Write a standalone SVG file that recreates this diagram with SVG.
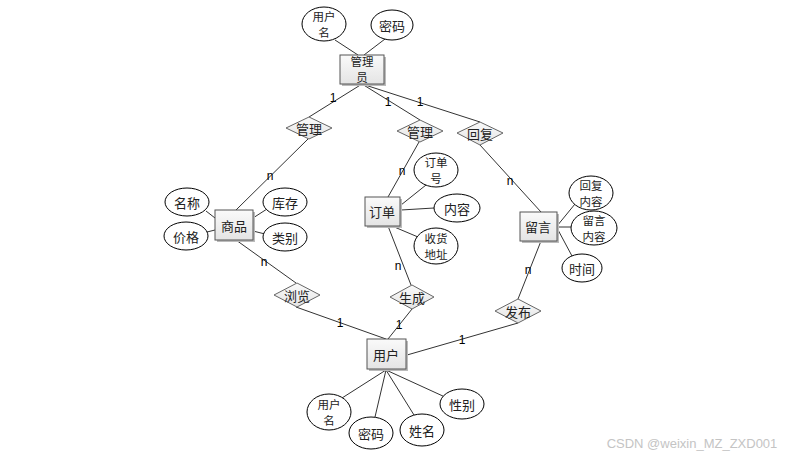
<svg xmlns="http://www.w3.org/2000/svg" width="788" height="457" viewBox="0 0 788 457">
<style>
text{font-family:"Noto Sans CJK SC","Liberation Sans",sans-serif;font-size:13px;fill:#222;text-anchor:middle;dominant-baseline:central}
text.two{font-size:11.5px}
.lbl{font-family:"Liberation Sans",sans-serif;font-size:12px;fill:#000}
.ent{fill:url(#g);stroke:#555;stroke-width:1}
.att{fill:#fff;stroke:#000;stroke-width:1}
.rel{fill:url(#g);stroke:#666;stroke-width:1}
.c line{stroke:#333;stroke-width:1}
.sh{fill:#bbb}
.wm{font-family:"Liberation Sans",sans-serif;font-size:13px;fill:#c4c4c4}
</style>
<defs>
<linearGradient id="g" x1="0" y1="0" x2="0" y2="1"><stop offset="0" stop-color="#fafafa"/><stop offset="1" stop-color="#e4e4e4"/></linearGradient>
</defs>
<rect width="788" height="457" fill="#fff"/>
<g class="c">
<line x1="335" y1="40" x2="358" y2="55"/>
<line x1="385" y1="39" x2="364" y2="55"/>
<line x1="362" y1="84" x2="309" y2="117"/>
<line x1="362" y1="84" x2="420" y2="120"/>
<line x1="362" y1="84" x2="480" y2="122"/>
<line x1="308" y1="139" x2="236" y2="210"/>
<line x1="419" y1="142" x2="388" y2="197"/>
<line x1="480" y1="145" x2="541" y2="212"/>
<line x1="206" y1="211" x2="215" y2="218"/>
<line x1="207" y1="232" x2="215" y2="230"/>
<line x1="253" y1="218" x2="267" y2="209"/>
<line x1="253" y1="231" x2="265" y2="234"/>
<line x1="401" y1="205" x2="426" y2="185"/>
<line x1="401" y1="210" x2="434" y2="208"/>
<line x1="392" y1="226" x2="418" y2="237"/>
<line x1="557" y1="226" x2="575" y2="204"/>
<line x1="557" y1="227" x2="571" y2="227"/>
<line x1="557" y1="228" x2="572" y2="256"/>
<line x1="236" y1="240" x2="296" y2="283"/>
<line x1="388" y1="226" x2="411" y2="285"/>
<line x1="541" y1="241" x2="518" y2="299"/>
<line x1="296" y1="307" x2="386" y2="339"/>
<line x1="412" y1="309" x2="388" y2="339"/>
<line x1="518" y1="323" x2="407" y2="355"/>
<line x1="386" y1="370" x2="342" y2="398"/>
<line x1="386" y1="370" x2="375" y2="417"/>
<line x1="386" y1="370" x2="414" y2="415"/>
<line x1="386" y1="370" x2="445" y2="397"/>
</g>
<g id="labels">
<text class="lbl" x="333" y="98">1</text>
<text class="lbl" x="388" y="102">1</text>
<text class="lbl" x="420" y="102">1</text>
<text class="lbl" x="270" y="176">n</text>
<text class="lbl" x="402" y="171">n</text>
<text class="lbl" x="510" y="181">n</text>
<text class="lbl" x="264" y="262">n</text>
<text class="lbl" x="398" y="266">n</text>
<text class="lbl" x="528" y="270">n</text>
<text class="lbl" x="340" y="323">1</text>
<text class="lbl" x="399" y="325">1</text>
<text class="lbl" x="462" y="340">1</text>
</g>
<g id="admin">
<rect class="sh" x="342" y="57" width="44" height="29"/>
<rect class="ent" x="340" y="55" width="44" height="29"/>
<text class="two" x="362" y="61">管理</text>
<text class="two" x="362" y="77">员</text>
</g>
<g id="admin-name"><ellipse class="att" cx="324" cy="24" rx="22" ry="17"/><text class="two" x="324" y="16">用户</text><text class="two" x="324" y="32">名</text></g>
<g id="admin-pwd"><ellipse class="att" cx="392" cy="25" rx="21" ry="15"/><text x="392" y="25">密码</text></g>
<g id="r-manage1"><polygon class="rel" points="309,117 332,128 309,139 286,128"/><text x="309" y="128">管理</text></g>
<g id="r-manage2"><polygon class="rel" points="420,120 443,131 420,142 397,131"/><text x="420" y="131">管理</text></g>
<g id="r-reply"><polygon class="rel" points="480,122 503,133 480,145 457,133"/><text x="480" y="133">回复</text></g>
<g id="goods">
<rect class="sh" x="217" y="212" width="38" height="30"/>
<rect class="ent" x="215" y="210" width="38" height="30"/>
<text x="234" y="225">商品</text>
</g>
<g id="g-name"><ellipse class="att" cx="187" cy="202" rx="22" ry="14"/><text x="187" y="202">名称</text></g>
<g id="g-price"><ellipse class="att" cx="186" cy="236" rx="22" ry="14"/><text x="186" y="236">价格</text></g>
<g id="g-stock"><ellipse class="att" cx="285" cy="202" rx="22" ry="14"/><text x="285" y="202">库存</text></g>
<g id="g-cat"><ellipse class="att" cx="285" cy="237" rx="22" ry="14"/><text x="285" y="237">类别</text></g>
<g id="order">
<rect class="sh" x="367" y="199" width="35" height="29"/>
<rect class="ent" x="365" y="197" width="35" height="29"/>
<text x="382" y="211">订单</text>
</g>
<g id="o-no"><ellipse class="att" cx="436" cy="170" rx="22" ry="17"/><text class="two" x="436" y="162">订单</text><text class="two" x="436" y="178">号</text></g>
<g id="o-content"><ellipse class="att" cx="457" cy="208" rx="23" ry="14"/><text x="457" y="208">内容</text></g>
<g id="o-addr"><ellipse class="att" cx="436" cy="246" rx="22" ry="18"/><text class="two" x="436" y="238">收货</text><text class="two" x="436" y="254">地址</text></g>
<g id="msg">
<rect class="sh" x="522" y="214" width="37" height="29"/>
<rect class="ent" x="520" y="212" width="37" height="29"/>
<text x="538" y="226">留言</text>
</g>
<g id="m-reply"><ellipse class="att" cx="591" cy="193" rx="22" ry="17"/><text class="two" x="591" y="185">回复</text><text class="two" x="591" y="201">内容</text></g>
<g id="m-content"><ellipse class="att" cx="594" cy="228" rx="23" ry="17"/><text class="two" x="594" y="220">留言</text><text class="two" x="594" y="236">内容</text></g>
<g id="m-time"><ellipse class="att" cx="582" cy="268" rx="20" ry="14"/><text x="582" y="268">时间</text></g>
<g id="r-browse"><polygon class="rel" points="297,283 320,295 297,307 274,295"/><text x="297" y="295">浏览</text></g>
<g id="r-create"><polygon class="rel" points="412,285 434,297 412,309 390,297"/><text x="412" y="297">生成</text></g>
<g id="r-post"><polygon class="rel" points="518,299 541,311 518,323 495,311"/><text x="518" y="311">发布</text></g>
<g id="user">
<rect class="sh" x="369" y="341" width="39" height="30"/>
<rect class="ent" x="367" y="339" width="39" height="30"/>
<text x="386" y="354">用户</text>
</g>
<g id="u-name"><ellipse class="att" cx="329" cy="412" rx="22" ry="18"/><text class="two" x="329" y="404">用户</text><text class="two" x="329" y="420">名</text></g>
<g id="u-pwd"><ellipse class="att" cx="371" cy="433" rx="22" ry="16"/><text x="371" y="433">密码</text></g>
<g id="u-xm"><ellipse class="att" cx="422" cy="430" rx="22" ry="16"/><text x="422" y="430">姓名</text></g>
<g id="u-sex"><ellipse class="att" cx="462" cy="404" rx="22" ry="15"/><text x="462" y="404">性别</text></g>
<text class="wm" x="692" y="443">CSDN @weixin_MZ_ZXD001</text>
</svg>
